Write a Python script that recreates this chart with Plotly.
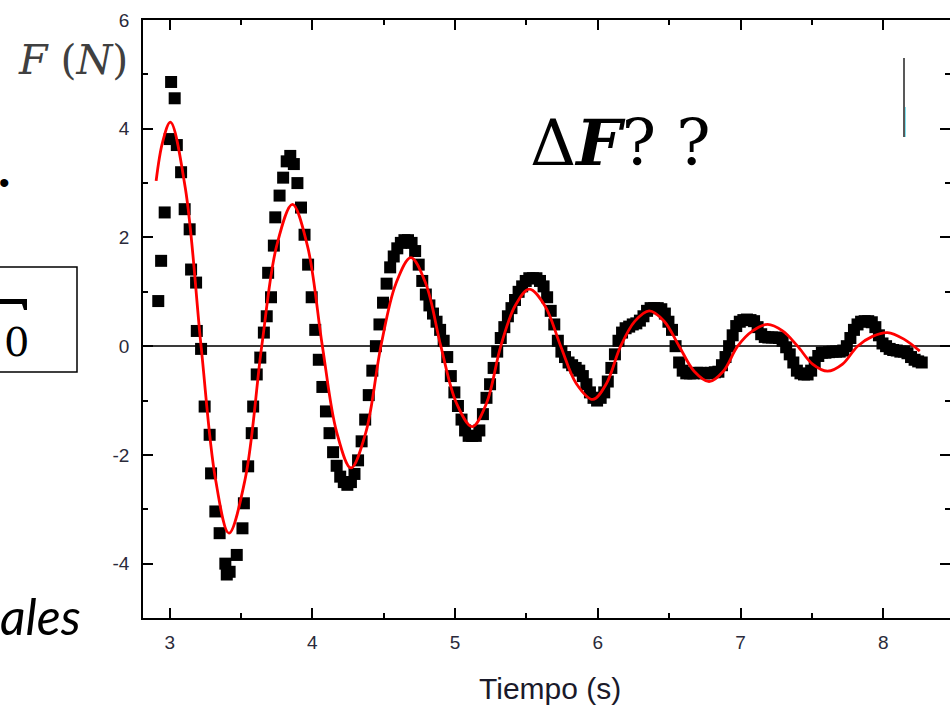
import plotly.graph_objects as go

# ---------------- data ----------------
t_data = [2.92, 2.94, 2.965, 3.0, 3.01, 3.035, 3.05, 3.08, 3.105, 3.14, 3.15, 3.185, 3.19,
          3.22, 3.245, 3.28, 3.29, 3.32, 3.35, 3.39, 3.40, 3.42, 3.47, 3.51, 3.52, 3.55,
          3.575, 3.585, 3.61, 3.635, 3.66, 3.68, 3.69, 3.71, 3.73, 3.74, 3.77,
          3.795, 3.82, 3.845, 3.87, 3.895, 3.92, 3.945, 3.97, 3.995, 4.02, 4.045, 4.07,
          4.095, 4.12, 4.145, 4.17, 4.195, 4.22, 4.245, 4.27, 4.295, 4.32, 4.345, 4.37,
          4.395, 4.42, 4.445, 4.47, 4.495, 4.52, 4.545, 4.57, 4.595, 4.62, 4.645, 4.67,
          4.695, 4.72, 4.745, 4.77, 4.795, 4.82, 4.845, 4.87, 4.895, 4.92, 4.945, 4.97,
          4.995, 5.02, 5.045, 5.07, 5.095, 5.12, 5.145, 5.17, 5.195, 5.22, 5.245, 5.27,
          5.295, 5.32, 5.345, 5.37, 5.395, 5.42, 5.445, 5.47, 5.495, 5.52, 5.545, 5.57,
          5.595, 5.62, 5.645, 5.67, 5.695, 5.72, 5.745, 5.77, 5.795, 5.82, 5.845, 5.87,
          5.895, 5.92, 5.945, 5.97, 5.995, 6.02, 6.045, 6.07, 6.095, 6.12, 6.145, 6.17,
          6.195, 6.22, 6.245, 6.27, 6.295, 6.32, 6.345, 6.37, 6.395, 6.42, 6.445, 6.47,
          6.495, 6.52, 6.545, 6.57, 6.595, 6.62, 6.645, 6.67, 6.695, 6.72, 6.745, 6.77,
          6.795, 6.82, 6.845, 6.87, 6.895, 6.92, 6.945, 6.97, 6.995, 7.02, 7.045, 7.07,
          7.095, 7.12, 7.145, 7.17, 7.195, 7.22, 7.245, 7.27, 7.295, 7.32, 7.345, 7.37,
          7.395, 7.42, 7.445, 7.47, 7.495, 7.52, 7.545, 7.57, 7.595, 7.62, 7.645, 7.67,
          7.695, 7.72, 7.745, 7.77, 7.795, 7.82, 7.845, 7.87, 7.895, 7.92, 7.945, 7.97,
          7.995, 8.02, 8.045, 8.07, 8.095, 8.12, 8.145, 8.17, 8.195, 8.22, 8.245, 8.27]
f_data = [0.83, 1.57, 2.46, 3.81, 4.86, 4.56, 3.70, 3.20, 2.52, 2.15, 1.41, 1.17, 0.28,
          -0.05, -1.11, -1.63, -2.34, -3.04, -3.44, -4.00, -4.20, -4.15, -3.84, -3.35, -2.89, -2.21,
          -1.60, -1.11, -0.52, -0.21, 0.25, 0.55, 1.35, 0.90, 1.85, 2.37, 2.77,
          3.10, 3.40, 3.50, 3.35, 3.00, 2.55, 2.05, 1.50, 0.90, 0.30, -0.25, -0.75,
          -1.20, -1.60, -1.95, -2.20, -2.40, -2.50, -2.55, -2.50, -2.35, -2.10, -1.75, -1.35,
          -0.90, -0.45, 0.00, 0.40, 0.80, 1.15, 1.45, 1.65, 1.80, 1.90, 1.95, 1.95,
          1.90, 1.75, 1.50, 1.20, 0.95, 0.75, 0.60, 0.45, 0.30, 0.10, -0.20, -0.55,
          -0.85, -1.10, -1.35, -1.55, -1.65, -1.65, -1.65, -1.55, -1.25, -0.95, -0.70, -0.40,
          -0.10, 0.15, 0.35, 0.55, 0.70, 0.85, 1.00, 1.10, 1.20, 1.25, 1.25, 1.25,
          1.20, 1.10, 0.90, 0.65, 0.40, 0.10, -0.10, -0.20, -0.30, -0.35, -0.40, -0.45,
          -0.55, -0.70, -0.85, -0.95, -1.00, -0.95, -0.85, -0.65, -0.40, -0.15, 0.10, 0.25,
          0.33, 0.36, 0.40, 0.42, 0.47, 0.55, 0.65, 0.70, 0.70, 0.70, 0.68, 0.60,
          0.45, 0.30, 0.00, -0.30, -0.45, -0.50, -0.50, -0.50, -0.49, -0.49, -0.50, -0.50,
          -0.49, -0.48, -0.47, -0.35, -0.20, 0.00, 0.20, 0.37, 0.45, 0.48, 0.49, 0.48,
          0.46, 0.35, 0.22, 0.17, 0.16, 0.16, 0.16, 0.15, 0.10, -0.02, -0.15, -0.30,
          -0.45, -0.50, -0.52, -0.52, -0.45, -0.30, -0.18, -0.12, -0.12, -0.11, -0.10, -0.10,
          -0.10, -0.08, 0.00, 0.15, 0.30, 0.40, 0.45, 0.46, 0.46, 0.44, 0.35, 0.20,
          0.05, 0.00, -0.05, -0.07, -0.08, -0.10, -0.10, -0.13, -0.20, -0.25, -0.28, -0.30]

t_fit = [2.905, 2.95, 3.005, 3.11, 3.22, 3.32, 3.415, 3.53, 3.645, 3.75, 3.86, 3.965,
         4.07, 4.17, 4.27, 4.375, 4.48, 4.585, 4.69, 4.795, 4.9, 5.01, 5.12, 5.22,
         5.32, 5.42, 5.52, 5.63, 5.74, 5.85, 5.965, 6.06, 6.16, 6.26, 6.36, 6.465,
         6.57, 6.675, 6.78, 6.88, 6.98, 7.085, 7.19, 7.295, 7.40, 7.505, 7.61, 7.715,
         7.82, 7.925, 8.03, 8.145, 8.256]
f_fit = [3.04, 3.75, 4.12, 2.90, 0.00, -2.43, -3.44, -2.43, 0.00, 1.85, 2.61, 1.85,
         0.00, -1.58, -2.24, -1.58, 0.00, 1.15, 1.63, 1.15, 0.00, -1.05, -1.48, -1.05,
         0.00, 0.74, 1.05, 0.74, 0.00, -0.69, -0.98, -0.69, 0.00, 0.46, 0.65, 0.46,
         0.00, -0.46, -0.65, -0.46, 0.00, 0.28, 0.40, 0.28, 0.00, -0.33, -0.46, -0.33,
         0.00, 0.18, 0.25, 0.13, -0.09]

x_ticks = [3, 4, 5, 6, 7, 8]
y_ticks = [-4, -2, 0, 2, 4, 6]
y_ticktext = ["-4", "-2", "0", "2", "4", "6"]

# ---------------- layout geometry ----------------
W, H = 950, 706
L, R, T, B = 143, 0, 20, 88
PW, PH = W - L - R, H - T - B


def px(x):
    return (x - L) / PW


def py(y):
    return (H - B - y) / PH


fig = go.Figure()
fig.add_trace(go.Scatter(
    x=t_data, y=f_data, mode="markers",
    marker=dict(symbol="square", size=12, color="black", line=dict(width=0)),
    showlegend=False, hoverinfo="skip"))
fig.add_trace(go.Scatter(
    x=t_fit, y=f_fit, mode="lines",
    line=dict(color="#ff0000", width=2.8, shape="spline", smoothing=1.0),
    showlegend=False, hoverinfo="skip"))

tickfont = dict(family="Liberation Sans, Arial, sans-serif", size=19, color="#2a2a3a")

fig.update_xaxes(
    range=[2.813, 8.468], tickvals=x_ticks, ticks="inside", ticklen=10, tickwidth=1.5,
    tickcolor="black", showline=True, linecolor="black", linewidth=1.5, mirror="allticks",
    showgrid=False, zeroline=False, tickfont=tickfont, ticklabelstandoff=6,
    automargin=False,
    minor=dict(dtick=0.5, tick0=3, ticks="inside", ticklen=5, tickwidth=1.5, tickcolor="black",
               showgrid=False))
fig.update_yaxes(
    range=[-5, 6], tickvals=y_ticks, ticktext=y_ticktext, ticks="inside", ticklen=10,
    tickwidth=1.5, tickcolor="black", showline=True, linecolor="black", linewidth=1.5,
    mirror="allticks", showgrid=False, zeroline=True, zerolinecolor="#3a3a3a",
    zerolinewidth=1.5, tickfont=tickfont, ticklabelstandoff=8, automargin=False,
    minor=dict(dtick=1, tick0=0, ticks="inside", ticklen=5, tickwidth=1.5, tickcolor="black",
               showgrid=False))

annotations = [
    dict(text="Tiempo (s)", x=px(550), y=py(688), xref="paper", yref="paper",
         showarrow=False, xanchor="center", yanchor="middle",
         font=dict(family="Liberation Sans, Arial, sans-serif", size=30, color="#1a1a2a")),
    dict(text="<i>F</i> (<i>N</i>)", x=px(73), y=py(60), xref="paper", yref="paper",
         showarrow=False, xanchor="center", yanchor="middle",
         font=dict(family="DejaVu Serif, serif", size=41, color="#404040")),
    dict(text="Δ<b><i>F</i></b>? ?", x=px(620), y=py(142), xref="paper", yref="paper",
         showarrow=False, xanchor="center", yanchor="middle",
         font=dict(family="DejaVu Serif, serif", size=64, color="black")),
    dict(text="•", x=px(4), y=py(182), xref="paper", yref="paper",
         showarrow=False, xanchor="center", yanchor="middle",
         font=dict(family="Liberation Sans, Arial, sans-serif", size=30, color="black")),
    dict(text="0", x=px(16), y=py(342), xref="paper", yref="paper",
         showarrow=False, xanchor="center", yanchor="middle",
         font=dict(family="DejaVu Serif, serif", size=40, color="black")),
    dict(text="<i>ales</i>", x=px(-2), y=py(616), xref="paper", yref="paper",
         showarrow=False, xanchor="left", yanchor="middle",
         font=dict(family="Lato, Open Sans, sans-serif", size=50, color="black")),
]

shapes = [
    # box around F0 (slide fragment)
    dict(type="rect", xref="paper", yref="paper", x0=px(-5), x1=px(77), y0=py(267), y1=py(372),
         line=dict(color="black", width=1.5), fillcolor="rgba(0,0,0,0)"),
    # top arm of the cut-off F glyph
    dict(type="path", xref="paper", yref="paper",
         path=f"M {px(0)},{py(299)} L {px(27)},{py(299)} L {px(27)},{py(310)} L {px(24)},{py(310)} "
              f"L {px(22)},{py(304)} L {px(0)},{py(304)} Z",
         fillcolor="black", line=dict(width=0)),
    # cursor mark
    dict(type="line", xref="paper", yref="paper", x0=px(904), x1=px(904), y0=py(58), y1=py(137),
         line=dict(color="#222222", width=1.5)),
    dict(type="line", xref="paper", yref="paper", x0=px(905.5), x1=px(905.5), y0=py(107), y1=py(137),
         line=dict(color="#7fe3f0", width=1)),
]

fig.update_layout(
    width=W, height=H, autosize=False,
    margin=dict(l=L, r=R, t=T, b=B, pad=0, autoexpand=False),
    paper_bgcolor="white", plot_bgcolor="white",
    showlegend=False, annotations=annotations, shapes=shapes,
)

fig.write_html("out.html", config={"displayModeBar": False},
               post_script="document.body.style.margin='0';document.body.style.padding='0';"
                           "document.body.style.overflow='hidden';")
